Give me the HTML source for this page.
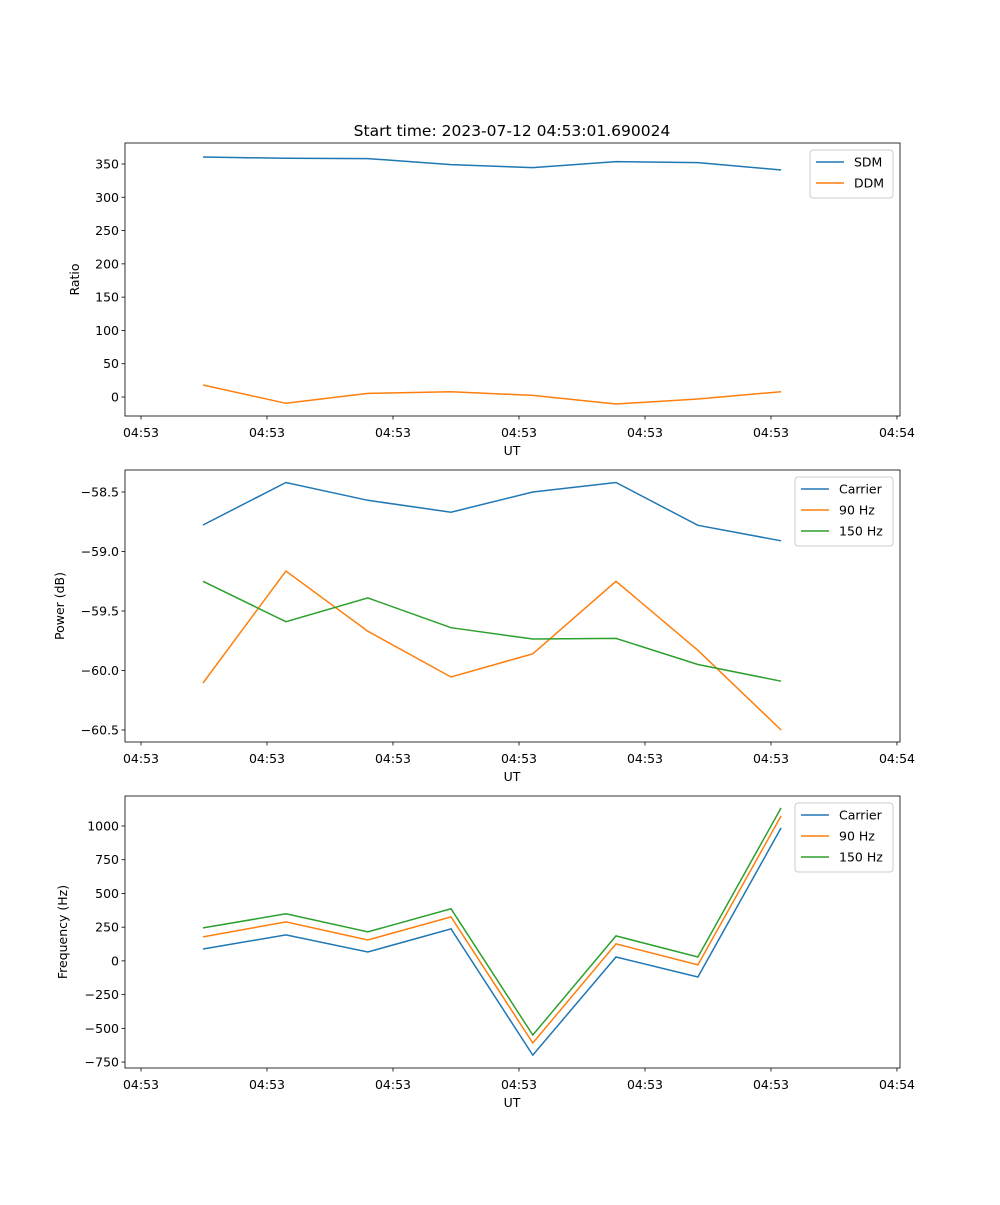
<!DOCTYPE html>
<html><head><meta charset="utf-8"><style>
body{margin:0;background:#fff;}
svg text{font-family:"DejaVu Sans","Liberation Sans",sans-serif;fill:#000;}
</style></head><body>
<svg id="fig" width="1000" height="1200" xmlns="http://www.w3.org/2000/svg">
<rect width="1000" height="1200" fill="#fff"/>
<text x="512" y="136" font-size="15.5" text-anchor="middle">Start time: 2023-07-12 04:53:01.690024</text>
</svg>
<script>
const times = [4.92, 11.5, 18.0, 24.6, 31.1, 37.7, 44.2, 50.8];
const xTicks = [0, 10, 20, 30, 40, 50, 60];
const xTickLabels = ["04:53","04:53","04:53","04:53","04:53","04:53","04:54"];
const sdm = [360.5, 358.5, 358, 349, 344.5, 353.5, 352, 341];
const ddm = [18, -9.5, 5.5, 8, 2.5, -10.5, -3, 8];
const powCarrier = [-58.777, -58.42, -58.57, -58.67, -58.5, -58.42, -58.78, -58.91];
const pow90 = [-60.105, -59.164, -59.67, -60.055, -59.86, -59.25, -59.83, -60.5];
const pow150 = [-59.25, -59.59, -59.39, -59.64, -59.735, -59.73, -59.95, -60.09];
const freqCarrier = [88, 193, 66, 237, -698, 29, -119, 986];
const freq90 = [178, 289, 155, 326, -609, 126, -30, 1075];
const freq150 = [245, 349, 215, 386, -549, 185, 29, 1134];
const yTicks1 = [0, 50, 100, 150, 200, 250, 300, 350];
const yTicks2 = [-60.5, -60.0, -59.5, -59.0, -58.5];
const yTicks3 = [-750, -500, -250, 0, 250, 500, 750, 1000];

const NS = "http://www.w3.org/2000/svg";
const svg = document.getElementById('fig');
function mk(tag, attrs, parent){const e=document.createElementNS(NS,tag);for(const k in attrs)e.setAttribute(k,attrs[k]);(parent||svg).appendChild(e);return e;}
const L=125,R=900,xMin=-1.27,xMax=60.24;
function xs(v){return L+(v-xMin)/(xMax-xMin)*(R-L);}
function fmt(v,dec){const s=v.toFixed(dec);return s.replace('-','\u2212');}
const FS=12.5;

function panel(name,top,bot,yMin,yMax,yt,dec,ylabel,yx,series,legTop,legW){
  const g=mk('g',{});
  
  
  const ys=v=>bot-(v-yMin)/(yMax-yMin)*(bot-top);
  series.forEach(s=>{
    const d=times.map((t,i)=>(i?'L':'M')+xs(t).toFixed(1)+','+ys(s.vals[i]).toFixed(1)).join(' ');
    const p=mk('path',{d:d,fill:'none',stroke:s.color,'stroke-width':1.5},g);
    
    
  });
  const fr=mk('rect',{x:L,y:top,width:R-L,height:bot-top,fill:'none',stroke:'#000','stroke-width':0.8},g);
  
  
  xTicks.forEach((t,i)=>{
    const x=xs(t);
    mk('line',{x1:x,x2:x,y1:bot,y2:bot+3.5,stroke:'#000','stroke-width':0.8},g);
    const tx=mk('text',{x:x,y:bot+21,'font-size':FS,'text-anchor':'middle'},g);
    tx.textContent=xTickLabels[i];
    
    
  });
  const xl=mk('text',{x:512,y:bot+39,'font-size':FS,'text-anchor':'middle'},g);
  xl.textContent='UT';
  
  
  yt.forEach(v=>{
    const y=ys(v);
    mk('line',{x1:L-3.5,x2:L,y1:y,y2:y,stroke:'#000','stroke-width':0.8},g);
    const tx=mk('text',{x:L-6,y:y+4.5,'font-size':FS,'text-anchor':'end'},g);
    tx.textContent=fmt(v,dec);
    
    
  });
  const yl=mk('text',{x:yx,y:(top+bot)/2,'font-size':FS,'text-anchor':'middle',transform:'rotate(-90 '+yx+' '+(top+bot)/2+')'},g);
  yl.textContent=ylabel;
  
  
  const lx=R-7-legW, lh=6+series.length*21;
  const lb=mk('rect',{x:lx,y:legTop,width:legW,height:lh,rx:3,fill:'#fff','fill-opacity':0.8,stroke:'#ccc'},g);
  
  
  series.forEach((s,i)=>{
    const y=legTop+12+i*21;
    const ln=mk('line',{x1:lx+6,x2:lx+34,y1:y,y2:y,stroke:s.color,'stroke-width':1.5},g);
    
    
    const t=mk('text',{x:lx+44,y:y+4.5,'font-size':FS},g);
    t.textContent=s.label;
    
    
  });
}
const B='#1f77b4',O='#ff7f0e',G='#2ca02c';
panel('ratio',143,416,-28.5,381.5,yTicks1,0,'Ratio',79,
  [{id:'sdm',label:'SDM',vals:sdm,color:B},{id:'ddm',label:'DDM',vals:ddm,color:O}],150,83);
panel('power',470,742,-60.601,-58.315,yTicks2,1,'Power (dB)',64,
  [{id:'carrier',label:'Carrier',vals:powCarrier,color:B},{id:'90hz',label:'90 Hz',vals:pow90,color:O},{id:'150hz',label:'150 Hz',vals:pow150,color:G}],477,98);
panel('frequency',796,1068,-794,1222.5,yTicks3,0,'Frequency (Hz)',67,
  [{id:'carrier',label:'Carrier',vals:freqCarrier,color:B},{id:'90hz',label:'90 Hz',vals:freq90,color:O},{id:'150hz',label:'150 Hz',vals:freq150,color:G}],803,98);
</script>
</body></html>
